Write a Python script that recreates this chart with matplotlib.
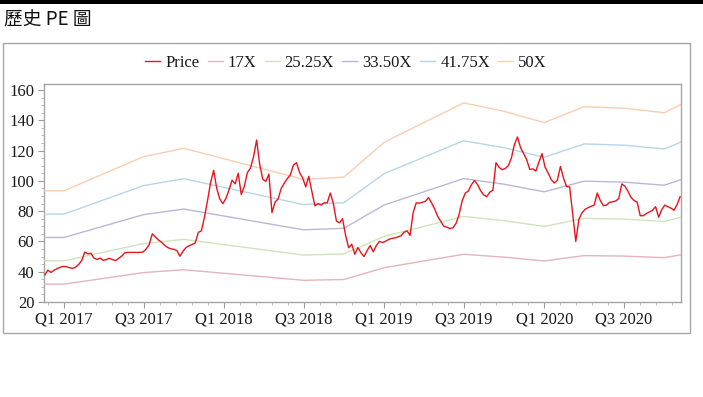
import numpy as np
import pandas as pd
import matplotlib
matplotlib.use("Agg")
import matplotlib.pyplot as plt
import matplotlib.dates as mdates
from matplotlib.patches import Rectangle

# ---------------- data ----------------
price_start = "2016-11-18"
price = [
    38, 41, 39.5, 41, 42, 43, 43.5, 43.3, 42.7, 42.2,
    43, 44.8, 47.3, 53, 51.8, 52.2, 49, 48.1, 49, 47.5,
    48, 48.9, 48, 47.4, 48.8, 50.3, 52.4, 52.8, 52.7, 52.8,
    52.7, 52.8, 53, 55, 58, 65, 63, 61, 59.5, 57.5,
    56, 55.2, 54.8, 54, 50.2, 53.5, 56, 57.2, 58, 59,
    66, 67, 76, 87, 99, 107, 95, 88, 85, 88.5,
    94, 100.5, 98, 105, 91, 96.5, 105.5, 108.5, 116, 127,
    111, 101, 99.7, 104.5, 79, 86, 88, 95, 98.5, 101.5,
    104, 110.5, 112, 105.5, 102, 96, 103, 93, 83.5, 85,
    84, 85.5, 85.5, 92, 85, 73.5, 72.3, 75, 64, 55.8,
    58.2, 51.5, 56, 52.5, 50, 54, 57.3, 53.2, 57.2, 60,
    59.3, 60.1, 61.3, 62, 62.3, 63, 63.7, 66, 67, 64,
    79, 85.5, 85.3, 85.8, 86.5, 89, 85.5, 81.5, 76.6, 73.3,
    70, 69.4, 68.5, 69, 72, 78, 87, 91.9, 93.3, 97.5,
    100.3, 97.5, 93.5, 90.7, 89.6, 92.6, 93.8, 112, 109, 107.4,
    108.2, 110, 115, 124, 129, 122, 118, 114, 107.6, 107.9,
    106.5, 112.5, 118, 109, 105.2, 100.8, 98.6, 100.5, 109.5, 101.8,
    96.2, 96, 78, 60, 74.5, 78.8, 81.2, 82.3, 83.2, 84,
    92, 87, 83.6, 84, 85.8, 86.2, 86.7, 88.3, 98, 96.5,
    93.2, 89.1, 87, 86, 77, 77, 78.4, 79.5, 80.5, 83,
    76, 81, 84, 83, 82, 80.6, 84.3, 89.5,
]

eps_dates = ["2016-11-16", "2017-01-01", "2017-07-01", "2017-10-01", "2018-07-01",
             "2018-10-01", "2019-01-01", "2019-07-01", "2019-10-01", "2020-01-01",
             "2020-04-01", "2020-07-01", "2020-10-01", "2020-11-08"]
eps = [1.87, 1.87, 2.32, 2.43, 2.02, 2.05, 2.51, 3.03, 2.92, 2.77, 2.98, 2.96, 2.90, 3.01]

pe_labels = ["17X", "25.25X", "33.50X", "41.75X", "50X"]
pe_mult = [17, 25.25, 33.5, 41.75, 50]
pe_colors = ["#e6b3bb", "#cfe3bd", "#b9b7d9", "#b5d6e6", "#f9cdb0"]
price_color = "#e8141c"

x_start, x_end = "2016-11-16", "2020-11-08"
major_ticks = ["2017-01-01", "2017-07-01", "2018-01-01", "2018-07-01",
               "2019-01-01", "2019-07-01", "2020-01-01", "2020-07-01", "2021-01-01"]
major_labels = ["Q1 2017", "Q3 2017", "Q1 2018", "Q3 2018",
                "Q1 2019", "Q3 2019", "Q1 2020", "Q3 2020", ""]

# ---------------- figure ----------------
serif = "Liberation Serif"
fig = plt.figure(figsize=(7.03, 3.97), dpi=100)

fig.patches.append(Rectangle((0, 1 - 3.5 / 397), 1, 3.5 / 397, transform=fig.transFigure,
                             facecolor="black", edgecolor="none"))
fig.text(4 / 703, 1 - 20 / 397, "歷史 PE 圖", family=["Noto Sans CJK TC", "DejaVu Sans"],
         fontsize=13.5, va="center", ha="left", color="#111111")
fig.patches.append(Rectangle((3 / 703, 64 / 397), 687 / 703, 290 / 397, transform=fig.transFigure,
                             facecolor="none", edgecolor="#a6a6a6", linewidth=1.0))

ax = fig.add_axes([44 / 703, 95 / 397, 637 / 703, 218 / 397])

pdates = pd.date_range(price_start, periods=len(price), freq="7D")
edates = pd.to_datetime(eps_dates)
eps_arr = np.array(eps)

ax.plot(pdates, price, color=price_color, lw=1.0, label="Price", zorder=5)
for lab, m, c in zip(pe_labels, pe_mult, pe_colors):
    ax.plot(edates, eps_arr * m, color=c, lw=1.0, label=lab, zorder=3)

# ticks
ax.set_yticks(np.arange(20, 161, 20))
ax.set_yticks(np.arange(20, 164, 5), minor=True)
mt = mdates.date2num(pd.to_datetime(major_ticks))
ax.set_xticks(mt[:-1])
ax.set_xticklabels(major_labels[:-1])
minor = []
for a, b in zip(mt[:-1], mt[1:]):
    minor.extend(np.linspace(a, b, 6)[1:-1])
minor.extend(np.linspace(mt[0] - (mt[1] - mt[0]), mt[0], 6)[1:-1])
ax.set_xticks(minor, minor=True)

ax.set_xlim(pd.Timestamp(x_start), pd.Timestamp(x_end))
ax.set_ylim(20, 164)

for lab in ax.get_xticklabels() + ax.get_yticklabels():
    lab.set_family(serif)
    lab.set_fontsize(12)
    lab.set_color("#1a1a1a")
ax.tick_params(axis="both", which="major", length=4, width=0.8, color="#9a9a9a", pad=3)
ax.tick_params(axis="both", which="minor", length=2, width=0.6, color="#b0b0b0")
for s in ax.spines.values():
    s.set_color("#a6a6a6")
    s.set_linewidth(1.0)

leg = fig.legend(loc="center", bbox_to_anchor=(346 / 703, 1 - 63 / 397), ncol=6, frameon=False,
                 handlelength=0.9, handletextpad=0.3, columnspacing=0.5,
                 prop={"family": serif, "size": 12})
for t in leg.get_texts():
    t.set_color("#1a1a1a")

fig.savefig("out.png", dpi=100)
